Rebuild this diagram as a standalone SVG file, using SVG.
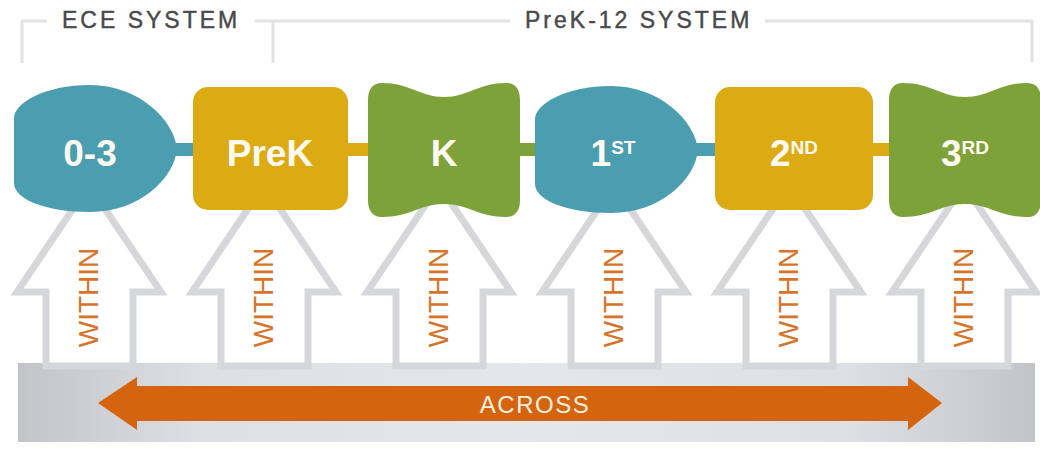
<svg xmlns="http://www.w3.org/2000/svg" width="1040" height="450" viewBox="0 0 1040 450">
<style>
.hdr{font-family:"Liberation Sans",Arial,sans-serif;font-size:23px;fill:#4a4a4a;stroke:#4a4a4a;stroke-width:0.45;letter-spacing:3px}
.brk{fill:none;stroke:#e2e2e2;stroke-width:3}
.lbl{font-family:"Liberation Sans",Arial,sans-serif;font-size:37px;font-weight:bold;fill:#fffaf0;text-anchor:middle}
.sup{font-size:19px}
.teal{fill:#4b9eb0}
.gold{fill:#dcab14}
.green{fill:#7da239}
.up{fill:#fff;stroke:#d6d7db;stroke-width:7;stroke-linejoin:miter}
.within{font-family:"Liberation Sans",Arial,sans-serif;font-size:28px;fill:#d8742a;text-anchor:middle}
.across{font-family:"Liberation Sans",Arial,sans-serif;font-size:24px;fill:#fbefe0;text-anchor:middle;letter-spacing:1.5px}
</style>
<defs>
<linearGradient id="barGrad" x1="0" y1="0" x2="1" y2="0">
<stop offset="0" stop-color="#c2c4c8"/>
<stop offset="0.18" stop-color="#dedfe2"/>
<stop offset="0.5" stop-color="#e6e7ea"/>
<stop offset="0.82" stop-color="#dedfe2"/>
<stop offset="1" stop-color="#c2c4c8"/>
</linearGradient>
<path id="upArrow" class="up" d="M0,185 L72,292 L44,292 L44,366 L-43,366 L-43,292 L-72,292 Z"/>
<path id="lemon" d="M0,98 L0,33 C0,18 31,0 76,0 C125,0 160,35 163,64 C160,94 125,127 76,127 C31,127 0,114 0,98 Z"/>
<path id="bow" d="M14,0 C42,0 52,14 76,14 C100,14 110,0 138,0 C148,0 152,7 152,17 L152,117 C152,127 148,134 138,134 C110,134 100,121 76,121 C52,121 42,134 14,134 C4,134 0,127 0,117 L0,17 C0,7 4,0 14,0 Z"/>
</defs>
<rect width="1040" height="450" fill="#fff"/>

<g id="headers">
<path class="brk" d="M22,63 L22,21 L47,21"/>
<path class="brk" d="M255,21 L510,21 M273,21 L273,63"/>
<path class="brk" d="M765,21 L1032,21 L1032,62"/>
<text class="hdr" x="62" y="28">ECE SYSTEM</text>
<text class="hdr" x="525" y="28">PreK-12 SYSTEM</text>
</g>

<g id="across">
<rect x="18" y="363" width="1017" height="79" fill="url(#barGrad)"/>
<polygon fill="#d5640f" points="98,403 137,377 137,386 908,386 908,377 942,403 908,430 908,421 137,421 137,430"/>
<text class="across" x="535" y="413">ACROSS</text>
</g>

<g id="within-arrows">
<g id="within-1"><use href="#upArrow" x="89"/><text class="within" transform="translate(98,297.5) rotate(-90)">WITHIN</text></g>
<g id="within-2"><use href="#upArrow" x="264"/><text class="within" transform="translate(273,297.5) rotate(-90)">WITHIN</text></g>
<g id="within-3"><use href="#upArrow" x="439"/><text class="within" transform="translate(448,297.5) rotate(-90)">WITHIN</text></g>
<g id="within-4"><use href="#upArrow" x="614"/><text class="within" transform="translate(623,297.5) rotate(-90)">WITHIN</text></g>
<g id="within-5"><use href="#upArrow" x="789"/><text class="within" transform="translate(798,297.5) rotate(-90)">WITHIN</text></g>
<g id="within-6"><use href="#upArrow" x="964"/><text class="within" transform="translate(973,297.5) rotate(-90)">WITHIN</text></g>
</g>

<g id="connectors">
<rect class="teal" x="170" y="143" width="30" height="13"/>
<rect class="gold" x="340" y="143" width="34" height="13"/>
<rect class="green" x="514" y="143" width="28" height="13"/>
<rect class="teal" x="690" y="143" width="30" height="13"/>
<rect class="gold" x="866" y="143" width="30" height="13"/>
</g>

<g id="node-0-3">
<use href="#lemon" class="teal" transform="translate(14,85)"/>
<text class="lbl" x="90" y="166">0-3</text>
</g>
<g id="node-prek">
<rect class="gold" x="193" y="87" width="155" height="123" rx="15"/>
<text class="lbl" x="270" y="166">PreK</text>
</g>
<g id="node-k">
<use href="#bow" class="green" transform="translate(368,83)"/>
<text class="lbl" x="444" y="166">K</text>
</g>
<g id="node-1st">
<use href="#lemon" class="teal" transform="translate(535,86)"/>
<text class="lbl" x="613" y="166">1<tspan class="sup" dy="-12">ST</tspan></text>
</g>
<g id="node-2nd">
<rect class="gold" x="715" y="87" width="158" height="123" rx="15"/>
<text class="lbl" x="794" y="166">2<tspan class="sup" dy="-12">ND</tspan></text>
</g>
<g id="node-3rd">
<use href="#bow" class="green" transform="translate(889,83)"/>
<text class="lbl" x="965" y="166">3<tspan class="sup" dy="-12">RD</tspan></text>
</g>
</svg>
